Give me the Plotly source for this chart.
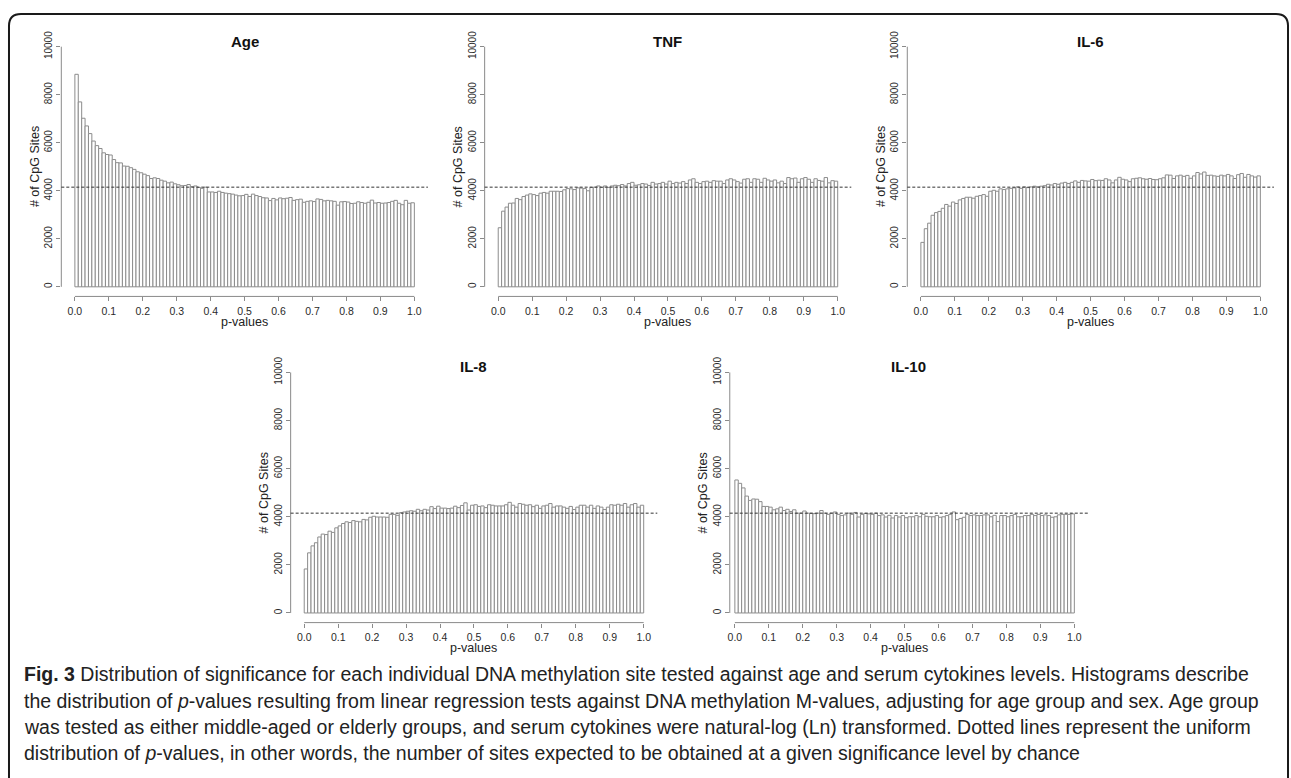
import plotly.graph_objects as go

# ---------------- data ----------------
p_breaks = [round(i * 0.01, 2) for i in range(101)]
x_ticks = [0.0, 0.1, 0.2, 0.3, 0.4, 0.5, 0.6, 0.7, 0.8, 0.9, 1.0]
x_tick_labels = ["0.0", "0.1", "0.2", "0.3", "0.4", "0.5", "0.6", "0.7", "0.8", "0.9", "1.0"]
y_ticks = [0, 2000, 4000, 6000, 8000, 10000]
y_tick_labels = ["0", "2000", "4000", "6000", "8000", "10000"]
expected_uniform = 4150

titles = ["Age", "TNF", "IL-6", "IL-8", "IL-10"]

age = [8850, 7700, 7020, 6700, 6380, 6070, 5880, 5760, 5580, 5510,
       5490, 5300, 5170, 5160, 5030, 5020, 4960, 4890, 4790, 4750,
       4690, 4630, 4510, 4540, 4510, 4440, 4400, 4330, 4360, 4290,
       4250, 4210, 4220, 4260, 4170, 4200, 4140, 4100, 4150, 3950,
       3950, 3930, 3980, 3930, 3900, 3880, 3860, 3820, 3790, 3800,
       3850, 3760, 3860, 3800, 3760, 3710, 3700, 3590, 3680, 3620,
       3700, 3670, 3690, 3720, 3600, 3630, 3650, 3520, 3560, 3580,
       3550, 3660, 3640, 3580, 3600, 3580, 3560, 3400, 3540, 3550,
       3530, 3470, 3480, 3540, 3510, 3480, 3520, 3610, 3490, 3510,
       3480, 3490, 3510, 3560, 3600, 3480, 3420, 3600, 3480, 3500]

tnf = [2460, 3150, 3320, 3480, 3490, 3680, 3630, 3760, 3820, 3870,
       3840, 3800, 3900, 3930, 3900, 3980, 3980, 3980, 3970, 4040,
       4090, 4080, 4050, 4120, 4110, 4090, 4000, 4140, 4150, 4200,
       4140, 4200, 4140, 4200, 4230, 4210, 4260, 4200, 4300, 4350,
       4230, 4250, 4300, 4280, 4220, 4350, 4280, 4300, 4350, 4280,
       4400, 4300, 4350, 4320, 4380, 4300, 4450, 4500, 4350, 4300,
       4380, 4400, 4350, 4420, 4400, 4400, 4300, 4450, 4500, 4450,
       4380, 4320, 4480, 4500, 4350, 4500, 4480, 4350, 4520, 4450,
       4400, 4450, 4330, 4400, 4300, 4550, 4500, 4530, 4350, 4500,
       4550, 4480, 4350, 4500, 4430, 4400, 4550, 4330, 4420, 4400]

il6 = [1850, 2420, 2650, 2980, 3090, 3140, 3270, 3430, 3360, 3530,
       3470, 3620, 3680, 3730, 3730, 3690, 3770, 3800, 3840, 3770,
       3980, 4020, 3980, 4080, 4050, 4080, 4100, 4120, 4160, 4100,
       4160, 4130, 4160, 4190, 4160, 4190, 4210, 4270, 4240, 4300,
       4270, 4320, 4350, 4300, 4350, 4410, 4350, 4430, 4410, 4400,
       4470, 4420, 4440, 4430, 4500, 4450, 4330, 4450, 4560, 4480,
       4450, 4380, 4500, 4520, 4540, 4500, 4480, 4510, 4470, 4460,
       4500, 4540, 4660, 4650, 4510, 4620, 4650, 4600, 4640, 4520,
       4620, 4760, 4700, 4780, 4640, 4650, 4620, 4600, 4650, 4620,
       4680, 4620, 4510, 4670, 4720, 4560, 4680, 4620, 4570, 4620]

il8 = [1830, 2500, 2790, 2920, 3160, 3280, 3260, 3400, 3350, 3540,
       3620, 3720, 3790, 3760, 3840, 3810, 3790, 3890, 3870, 3980,
       4020, 3990, 3990, 3990, 3980, 4100, 4100, 4060, 4170, 4200,
       4230, 4250, 4230, 4310, 4250, 4310, 4280, 4420, 4340, 4440,
       4360, 4360, 4340, 4360, 4440, 4380, 4470, 4580, 4280, 4480,
       4500, 4430, 4450, 4380, 4500, 4480, 4450, 4450, 4450, 4500,
       4600, 4480, 4400, 4550, 4520, 4480, 4500, 4420, 4480, 4350,
       4450, 4480, 4550, 4400, 4450, 4450, 4400, 4350, 4430, 4300,
       4400, 4480, 4480, 4400, 4480, 4350, 4450, 4400, 4300, 4400,
       4500, 4480, 4520, 4480, 4550, 4400, 4500, 4550, 4400, 4480]

il10 = [5530, 5390, 5200, 4860, 4680, 4740, 4730, 4630, 4430, 4430,
        4400, 4290, 4330, 4400, 4260, 4310, 4220, 4290, 4150, 4150,
        4240, 4150, 4140, 4130, 4150, 4260, 4150, 4100, 4150, 4200,
        4100, 4050, 4080, 4150, 4100, 4180, 3990, 4100, 4140, 4120,
        4100, 4150, 4050, 4080, 3990, 4060, 3950, 4050, 3990, 4050,
        3960, 4000, 4000, 4050, 4000, 4100, 4020, 4000, 4000, 4050,
        3980, 4000, 4050, 4100, 4200, 3880, 3930, 3980, 4100, 4050,
        4080, 4050, 4050, 4080, 4080, 4000, 4060, 3800, 4050, 4050,
        4000, 4050, 4100, 4000, 4000, 4050, 4050, 4100, 4050, 4100,
        4050, 4080, 4050, 3980, 4000, 4080, 4100, 4100, 4100, 4120]

series = [age, tnf, il6, il8, il10]

caption_lines = [
    "<b>Fig. 3</b> Distribution of significance for each individual DNA methylation site tested against age and serum cytokines levels. Histograms describe",
    "the distribution of <i>p</i>-values resulting from linear regression tests against DNA methylation M-values, adjusting for age group and sex. Age group",
    "was tested as either middle-aged or elderly groups, and serum cytokines were natural-log (Ln) transformed. Dotted lines represent the uniform",
    "distribution of <i>p</i>-values, in other words, the number of sites expected to be obtained at a given significance level by chance",
]

# ---------------- layout geometry (pixels) ----------------
W, H = 1291, 778
PX_X = 340.0           # pixels per unit p-value
# (pixel x of p=0, pixel y of count=0, px per count, left range limit)
geom = [
    (73.0, 283.0, 0.0242, -0.04),
    (497.0, 283.0, 0.0242, -0.04),
    (920.3, 283.0, 0.0242, -0.04),
    (302.7, 611.7, 0.02424, -0.04),
    (734.0, 611.7, 0.02424, -0.015),
]
Y_RANGE = [-400, 10400]
X_RIGHT = 1.04

def fx(px):
    return px / W

def fy(py):
    return 1 - py / H

FONT = "Liberation Sans, Arial, Helvetica, sans-serif"
BAR_LINE = "#8c8c8c"
AXIS_COL = "#8a8a8a"

centers = [(a + b) / 2 for a, b in zip(p_breaks[:-1], p_breaks[1:])]
widths = [b - a for a, b in zip(p_breaks[:-1], p_breaks[1:])]

fig = go.Figure()
layout = dict(width=W, height=H, margin=dict(l=0, r=0, t=0, b=0),
              paper_bgcolor="white", plot_bgcolor="white", showlegend=False,
              font=dict(family=FONT, color="#222"))
shapes = []
annotations = []

for k, (vals, title, (x0, y0, sy, xl)) in enumerate(zip(series, titles, geom), start=1):
    xa = "x" if k == 1 else f"x{k}"
    ya = "y" if k == 1 else f"y{k}"
    xkey = "xaxis" if k == 1 else f"xaxis{k}"
    ykey = "yaxis" if k == 1 else f"yaxis{k}"

    fig.add_trace(go.Bar(x=centers, y=vals, width=widths, xaxis=xa, yaxis=ya,
                         marker=dict(color="white", line=dict(color=BAR_LINE, width=1)),
                         hoverinfo="x+y"))

    left_px = x0 + xl * PX_X
    right_px = x0 + X_RIGHT * PX_X
    bot_px = y0 - Y_RANGE[0] * sy
    top_px = y0 - Y_RANGE[1] * sy

    layout[xkey] = dict(domain=[fx(left_px), fx(right_px)], range=[xl, X_RIGHT],
                        anchor=ya, showgrid=False, zeroline=False, showline=False,
                        tickmode="array", tickvals=x_ticks, ticktext=x_tick_labels,
                        ticks="outside", ticklen=4, tickcolor=AXIS_COL, tickwidth=1,
                        ticklabelstandoff=1, fixedrange=True,
                        tickfont=dict(family=FONT, size=10.5, color="#2a2a2a"))
    layout[ykey] = dict(domain=[fy(bot_px), fy(top_px)], range=Y_RANGE,
                        anchor=xa, showgrid=False, zeroline=False, showline=False,
                        tickmode="array", tickvals=y_ticks, ticktext=y_tick_labels,
                        ticks="outside", ticklen=4, tickcolor=AXIS_COL, tickwidth=1,
                        tickangle=-90, ticklabelstandoff=0, fixedrange=True,
                        tickfont=dict(family=FONT, size=10, color="#2a2a2a"))

    # R-style axis lines spanning only first..last tick
    shapes.append(dict(type="line", xref=xa, yref=f"{ya} domain",
                       x0=x_ticks[0], x1=x_ticks[-1], y0=0, y1=0,
                       line=dict(color=AXIS_COL, width=1)))
    shapes.append(dict(type="line", xref=f"{xa} domain", yref=ya,
                       x0=0, x1=0, y0=y_ticks[0], y1=y_ticks[-1],
                       line=dict(color=AXIS_COL, width=1)))
    # expected uniform line
    shapes.append(dict(type="line", xref=f"{xa} domain", yref=ya,
                       x0=0, x1=1, y0=expected_uniform, y1=expected_uniform,
                       line=dict(color="#333", width=1, dash="3px,2px")))

    cx = (left_px + right_px) / 2
    annotations.append(dict(text=f"<b>{title}</b>", xref="paper", yref="paper",
                            x=fx(cx), y=fy(top_px + 4), xanchor="center", yanchor="middle",
                            showarrow=False, font=dict(family=FONT, size=15, color="#111")))
    annotations.append(dict(text="p-values", xref="paper", yref="paper",
                            x=fx(x0 + 0.5 * PX_X), y=fy(bot_px + 26), xanchor="center",
                            yanchor="middle", showarrow=False,
                            font=dict(family=FONT, size=12.5, color="#222")))
    annotations.append(dict(text="# of CpG Sites", xref="paper", yref="paper",
                            x=fx(left_px - 27), y=fy((bot_px + top_px) / 2),
                            xanchor="center", yanchor="middle", textangle=-90,
                            showarrow=False, font=dict(family=FONT, size=12.5, color="#222")))

# caption
cap_y = [673, 700, 727, 753]
for line, py in zip(caption_lines, cap_y):
    annotations.append(dict(text=line, xref="paper", yref="paper", x=fx(20), y=fy(py),
                            xanchor="left", yanchor="middle", showarrow=False,
                            font=dict(family=FONT, size=19.5, color="#222")))

# rounded frame (open at the bottom)
L, T, R, r = 7, 8, 1288, 12
path = (f"M {fx(L)},{fy(H)} L {fx(L)},{fy(T + r)} Q {fx(L)},{fy(T)} {fx(L + r)},{fy(T)} "
        f"L {fx(R - r)},{fy(T)} Q {fx(R)},{fy(T)} {fx(R)},{fy(T + r)} L {fx(R)},{fy(H)}")
shapes.append(dict(type="path", xref="paper", yref="paper", path=path,
                   line=dict(color="#1a1a1a", width=2)))

layout["shapes"] = shapes
layout["annotations"] = annotations
fig.update_layout(**layout)
fig.write_html("out.html",
               config={"displayModeBar": False, "staticPlot": False},
               post_script="document.body.style.margin='0px';document.body.style.padding='0px';"
                           "document.documentElement.style.overflow='hidden';"
                           "document.body.style.overflow='hidden';")
